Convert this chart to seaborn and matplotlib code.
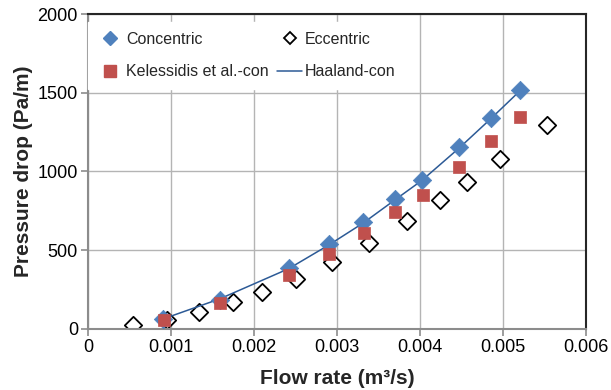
import matplotlib
matplotlib.use("Agg")
import matplotlib.pyplot as plt
import seaborn as sns
import pandas as pd
from matplotlib.lines import Line2D

# ---- data ----
conc_q = [0.000898, 0.001584, 0.002416, 0.002898, 0.003314, 0.003694, 0.004020, 0.004470, 0.004849, 0.005204]
conc_dp = [64, 186, 386, 536, 678, 824, 947, 1153, 1337, 1515]

kel_q = [0.000918, 0.001592, 0.002420, 0.002906, 0.003318, 0.003694, 0.004029, 0.004470, 0.004853, 0.005204]
kel_dp = [57, 167, 343, 477, 610, 739, 852, 1028, 1193, 1347]

ecc_q = [0.000539, 0.000951, 0.001339, 0.001747, 0.002090, 0.002498, 0.002939, 0.003388, 0.003837, 0.004237, 0.004563, 0.004967, 0.005531]
ecc_dp = [25, 59, 106, 169, 233, 318, 422, 544, 682, 816, 932, 1081, 1297]

haa_q = [0.000898, 0.001584, 0.002416, 0.002898, 0.003314, 0.003694, 0.004020, 0.004470, 0.004849, 0.005204]
haa_dp = [62, 190, 382, 532, 672, 818, 942, 1148, 1333, 1512]

x_ticks = [0, 0.001, 0.002, 0.003, 0.004, 0.005, 0.006]
x_tick_labels = ["0", "0.001", "0.002", "0.003", "0.004", "0.005", "0.006"]
y_ticks = [0, 500, 1000, 1500, 2000]
y_tick_labels = ["0", "500", "1000", "1500", "2000"]

labels = ["Concentric", "Eccentric", "Kelessidis et al.-con", "Haaland-con"]
x_label = "Flow rate (m³/s)"
y_label = "Pressure drop (Pa/m)"

df_conc = pd.DataFrame({"q": conc_q, "dp": conc_dp})
df_kel = pd.DataFrame({"q": kel_q, "dp": kel_dp})
df_ecc = pd.DataFrame({"q": ecc_q, "dp": ecc_dp})
df_haa = pd.DataFrame({"q": haa_q, "dp": haa_dp})

sns.set_style("white")
plt.rcParams["font.family"] = ["Liberation Sans", "DejaVu Sans"]

c_blue = "#4F81BD"
c_red = "#C0504D"
c_line = "#2C5A96"

fig = plt.figure(figsize=(6.11, 3.9), dpi=100)
ax_h = (328.8 - 14) / 390
ax = fig.add_axes([88.3 / 611, (390 - 328.8) / 390, (586 - 88.3) / 611, ax_h])

sns.scatterplot(data=df_ecc, x="q", y="dp", ax=ax, marker="D", s=78, color="white",
                edgecolor="black", linewidth=1.3, zorder=2)
sns.lineplot(data=df_haa, x="q", y="dp", ax=ax, color=c_line, linewidth=1.1, zorder=3,
             estimator=None, sort=False)
sns.scatterplot(data=df_conc, x="q", y="dp", ax=ax, marker="D", s=88, color=c_blue,
                edgecolor=c_blue, linewidth=0.5, zorder=4)
sns.scatterplot(data=df_kel, x="q", y="dp", ax=ax, marker="s", s=72, color=c_red,
                edgecolor=c_red, linewidth=0.5, zorder=5)

ax.set_xlim(0, 0.006)
ax.set_ylim(0, 2000)
ax.set_xticks(x_ticks)
ax.set_xticklabels(x_tick_labels)
ax.set_yticks(y_ticks)
ax.set_yticklabels(y_tick_labels)
ax.grid(True, color="#B4B4B4", linewidth=1.0)
ax.set_axisbelow(True)

ax.tick_params(axis="both", which="major", labelsize=13, colors="#8C8C8C",
               length=5, width=1.2, direction="out", pad=2.5, labelcolor="black")
ax.tick_params(left=True, bottom=True)

for side in ["top", "right"]:
    ax.spines[side].set_color("#262626")
    ax.spines[side].set_linewidth(1.5)
for side in ["left", "bottom"]:
    ax.spines[side].set_color("#8C8C8C")
    ax.spines[side].set_linewidth(1.5)

ax.set_xlabel(x_label, fontsize=15, fontweight="bold", labelpad=9)
ax.set_ylabel(y_label, fontsize=15, fontweight="bold", labelpad=3)

handles = [
    Line2D([], [], marker="D", linestyle="none", markersize=7, color=c_blue, markeredgecolor=c_blue),
    Line2D([], [], marker="s", linestyle="none", markersize=8.5, color=c_red, markeredgecolor=c_red),
    Line2D([], [], marker="D", linestyle="none", markersize=6.5, markerfacecolor="white",
           markeredgecolor="black", markeredgewidth=1.3),
    Line2D([], [], color=c_line, linewidth=1.1),
]
leg_labels = [labels[0], labels[2], labels[1], labels[3]]
leg = ax.legend(handles, leg_labels, ncol=2, loc="upper left",
                bbox_to_anchor=(0.0, 1 - 8 / 314.8), fontsize=11.5,
                frameon=True, facecolor="white", edgecolor="white", framealpha=1,
                fancybox=False, handlelength=1.55, handletextpad=0.2, columnspacing=0.55,
                labelspacing=1.1, borderaxespad=0.0, borderpad=0.6)
leg.set_zorder(10)

fig.savefig("out.png", dpi=100)
